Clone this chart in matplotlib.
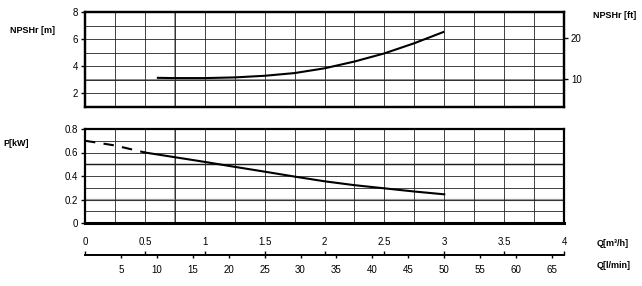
import matplotlib
matplotlib.use("Agg")
import matplotlib.pyplot as plt
import numpy as np

plt.rcParams['font.family'] = ['Liberation Sans', 'DejaVu Sans']

# Data
npsh_q = [0.6, 0.75, 1.0, 1.25, 1.5, 1.75, 2.0, 2.25, 2.5, 2.75, 3.0]
npsh_m = [3.15, 3.13, 3.13, 3.18, 3.3, 3.5, 3.85, 4.35, 4.95, 5.7, 6.55]
p_dash_q = [0.0, 0.25, 0.5]
p_dash_kw = [0.70, 0.66, 0.60]
p_q = [0.5, 0.75, 1.0, 1.25, 1.5, 1.75, 2.0, 2.25, 2.5, 2.75, 3.0]
p_kw = [0.60, 0.56, 0.52, 0.478, 0.437, 0.395, 0.355, 0.322, 0.295, 0.268, 0.244]
q_m3h_ticks = [0, 0.5, 1, 1.5, 2, 2.5, 3, 3.5, 4]
q_m3h_labels = ['0', '0.5', '1', '1.5', '2', '2.5', '3', '3.5', '4']
q_lmin_ticks = [5, 10, 15, 20, 25, 30, 35, 40, 45, 50, 55, 60, 65]
npsh_m_ticks = [2, 4, 6, 8]
npsh_ft_ticks = [10, 20]
p_ticks = [0, 0.2, 0.4, 0.6, 0.8]

W, H = 642, 286
fig = plt.figure(figsize=(W / 100, H / 100), dpi=100)

def rect(x0, y0, x1, y1):
    return [x0 / W, 1 - y1 / H, (x1 - x0) / W, (y1 - y0) / H]

fs = 7
ax1 = fig.add_axes(rect(85, 12, 564, 107))
ax2 = fig.add_axes(rect(85, 129, 564, 223))

for ax in (ax1, ax2):
    ax.set_xlim(0, 4)
    ax.set_xticks(np.arange(0, 4.01, 0.25))
    ax.tick_params(axis='x', length=0, labelbottom=False)
    ax.tick_params(axis='y', length=3, width=1, labelsize=fs, pad=2)
    ax.grid(True, color='#222222', linewidth=0.6)
    ax.axvline(0.75, color='#9a9a9a', linewidth=1.4, zorder=1.5)
    for s in ax.spines.values():
        s.set_linewidth(1.6)
        s.set_zorder(3)

ax1.set_ylim(1, 8)
ax1.set_yticks(npsh_m_ticks)
ax1.set_yticks(range(1, 9), minor=True)
ax1.tick_params(axis='y', which='minor', length=0)
ax1.grid(True, which='minor', axis='y', color='#222222', linewidth=0.6)
ax1.axhline(3, color='#8a8a8a', linewidth=1.4, zorder=1.5)
ax1.plot(npsh_q, npsh_m, color='black', linewidth=1.5, solid_capstyle='butt', zorder=4)

axr = ax1.twinx()
axr.set_ylim(1 / 0.3048, 8 / 0.3048)
axr.set_yticks(npsh_ft_ticks)
axr.tick_params(axis='y', length=3, width=1, labelsize=fs, pad=2)
for s in axr.spines.values():
    s.set_linewidth(1.6)

ax2.set_ylim(0, 0.8)
ax2.set_yticks(p_ticks)
ax2.set_yticklabels(['0', '0.2', '0.4', '0.6', '0.8'])
ax2.set_yticks(np.arange(0, 0.81, 0.1), minor=True)
ax2.tick_params(axis='y', which='minor', length=0)
ax2.grid(True, which='minor', axis='y', color='#222222', linewidth=0.6)
ax2.axhline(0.2, color='#9a9a9a', linewidth=1.6, zorder=1.5)
ax2.axhline(0.5, color='black', linewidth=1.0, zorder=1.5)
ax2.spines['bottom'].set_linewidth(2.2)
ax2.plot(p_dash_q, p_dash_kw, color='black', linewidth=1.5, dashes=(5, 4), zorder=4)
ax2.plot(p_q, p_kw, color='black', linewidth=1.5, zorder=4)

# Q axes
ax3 = fig.add_axes(rect(85, 255, 564, 255.01))
ax3.set_xlim(0, 4)
ax3.set_yticks([])
for k in ('left', 'right', 'top'):
    ax3.spines[k].set_visible(False)
ax3.spines['bottom'].set_linewidth(1.4)
ax3.set_xticks(q_m3h_ticks)
ax3.set_xticklabels(q_m3h_labels)
ax3.tick_params(axis='x', direction='in', length=3, width=1, labelsize=fs,
                bottom=True, top=False, labelbottom=False, labeltop=True, pad=6)

sec = ax3.secondary_xaxis('bottom', functions=(lambda q: q * 1000 / 60, lambda l: l * 60 / 1000))
sec.set_xticks(q_lmin_ticks)
sec.tick_params(axis='x', direction='out', length=2, width=1, labelsize=fs, pad=5)
sec.spines['bottom'].set_visible(False)

fig.text(10 / W, 1 - 31 / H, 'NPSHr [m]', fontsize=6.5, fontweight='bold', va='center', ha='left')
fig.text(593 / W, 1 - 15 / H, 'NPSHr [ft]', fontsize=6.5, fontweight='bold', va='center', ha='left')
fig.text(3 / W, 1 - 143 / H, 'P[kW]', fontsize=6.5, fontweight='bold', va='center', ha='left')
fig.text(597 / W, 1 - 244 / H, 'Q[m³/h]', fontsize=6.5, fontweight='bold', va='center', ha='left')
fig.text(597 / W, 1 - 265 / H, 'Q[l/min]', fontsize=6.5, fontweight='bold', va='center', ha='left')

fig.savefig('out.png', dpi=100)
